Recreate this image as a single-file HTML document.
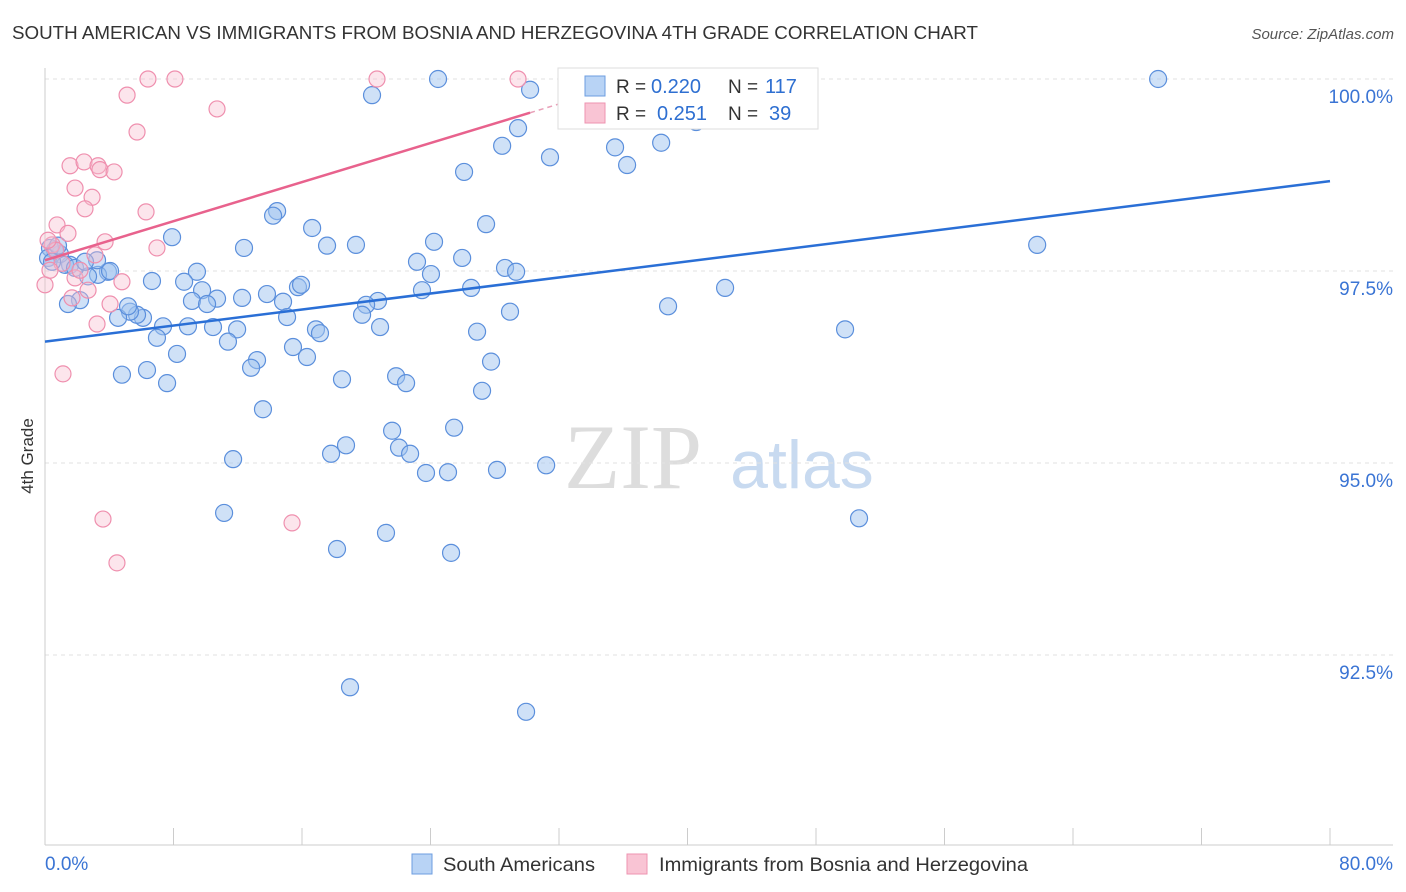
<!DOCTYPE html>
<html><head><meta charset="utf-8"><style>
body{margin:0;background:#fff;font-family:"Liberation Sans",sans-serif;}
svg{display:block}
</style></head><body>
<svg id="chart" width="1406" height="892" xmlns="http://www.w3.org/2000/svg">
<text x="12" y="39" font-size="18.8" fill="#333" font-family="Liberation Sans, sans-serif" textLength="966" lengthAdjust="spacingAndGlyphs">SOUTH AMERICAN VS IMMIGRANTS FROM BOSNIA AND HERZEGOVINA 4TH GRADE CORRELATION CHART</text>
<text x="1394" y="39" font-size="15" fill="#555" text-anchor="end" font-style="italic">Source: ZipAtlas.com</text>
<text transform="translate(33,456) rotate(-90)" font-size="17" fill="#333" text-anchor="middle">4th Grade</text>
<g>
<text x="633" y="488" font-size="92" fill="#ddd" text-anchor="middle" font-family="Liberation Serif, serif">ZIP</text>
<text x="802" y="488" font-size="68" fill="#c8daf0" text-anchor="middle">atlas</text>
</g>
<g id="grid"></g><g id="axes"></g><g id="pts"></g><g id="lines"></g>
<g>
<rect x="558" y="68" width="260" height="61" fill="#fff" stroke="#ddd"/>
<rect x="585" y="76" width="20" height="20" fill="#b8d3f5" stroke="#6d9ee0"/>
<rect x="585" y="103" width="20" height="20" fill="#f9c4d4" stroke="#ee93b0"/>
<text x="616" y="93" font-size="19" fill="#333">R =</text>
<text x="651" y="93" font-size="20" fill="#2e6fd1">0.220</text>
<text x="728" y="93" font-size="19" fill="#333">N =</text>
<text x="765" y="93" font-size="20" fill="#2e6fd1">117</text>
<text x="616" y="120" font-size="19" fill="#333">R =</text>
<text x="657" y="120" font-size="20" fill="#2e6fd1">0.251</text>
<text x="728" y="120" font-size="19" fill="#333">N =</text>
<text x="769" y="120" font-size="20" fill="#2e6fd1">39</text>
</g>
<g>
<rect x="412" y="854" width="20" height="20" fill="#b8d3f5" stroke="#6d9ee0"/>
<text x="443" y="871" font-size="19" fill="#333" textLength="152" lengthAdjust="spacingAndGlyphs">South Americans</text>
<rect x="627" y="854" width="20" height="20" fill="#f9c4d4" stroke="#ee93b0"/>
<text x="659" y="871" font-size="19" fill="#333" textLength="369" lengthAdjust="spacingAndGlyphs">Immigrants from Bosnia and Herzegovina</text>
</g>
</svg>
<script>
const yTicks=[100,97.5,95,92.5];
const yTickLabels=["100.0%","97.5%","95.0%","92.5%"];
const xTicks=[0,8,16,24,32,40,48,56,64,72,80];
const blueX=[24.47,20.36,30.2,32.57,37.11,69.3,29.45,28.46,31.44,35.49,36.24,38.36,26.09,40.54,14.45,14.2,16.63,27.46,7.91,12.39,17.56,19.36,24.22,25.97,23.16,24.03,28.64,29.33,26.53,23.47,61.77,42.34,38.79,49.81,28.95,26.9,27.77,27.21,20.73,19.99,19.74,20.86,15.75,15.94,13.82,14.82,15.07,16.87,17.12,15.44,16.31,13.2,12.83,18.49,21.86,22.48,13.57,21.61,25.47,18.74,17.81,22.04,22.73,11.71,23.72,25.09,28.14,31.2,11.15,50.68,21.23,18.18,25.28,18.99,29.95,9.46,8.66,9.78,10.71,12.27,9.15,10.09,10.46,11.96,11.39,8.9,7.35,6.97,8.22,6.1,5.73,5.29,4.55,5.17,3.92,3.3,2.68,1.56,0.93,0.62,0.31,0.19,1.25,2.18,1.43,3.24,6.66,6.35,7.6,4.79,1.87,0.81,2.49,4.05,0.44];
const blueY=[100,99.79,99.86,100,99.6,100,99.36,99.13,98.98,99.11,98.88,99.17,98.79,99.44,98.28,98.22,98.06,98.11,97.94,97.8,97.83,97.84,97.88,97.67,97.62,97.46,97.54,97.49,97.28,97.25,97.84,97.28,97.04,96.74,96.97,96.71,96.32,95.94,97.11,97.06,96.93,96.77,97.29,97.32,97.2,97.1,96.9,96.74,96.69,96.51,96.38,96.34,96.24,96.09,96.13,96.04,95.7,95.42,95.46,95.23,95.12,95.2,95.12,95.05,94.87,94.88,94.91,94.97,94.35,94.28,94.09,93.88,93.83,92.08,91.76,97.49,97.36,97.25,97.14,97.15,97.11,97.07,96.77,96.74,96.58,96.78,96.78,96.63,96.42,96.89,96.93,96.97,96.89,97.04,97.49,97.45,97.43,97.58,97.72,97.77,97.8,97.67,97.58,97.12,97.07,97.64,97.37,96.21,96.04,96.15,97.54,97.83,97.62,97.5,97.62];
const pinkX=[6.41,8.09,20.67,29.45,5.11,10.71,5.73,1.56,2.43,3.3,3.42,4.3,1.87,2.93,2.49,6.29,0.75,1.43,0.44,0.68,6.97,3.74,3.11,1.06,1.87,2.68,4.79,1.68,4.05,3.24,1.12,3.61,15.38,4.48,0,0.31,0.19,2.18];
const pinkY=[100,100,100,100,99.79,99.61,99.31,98.87,98.92,98.87,98.82,98.79,98.58,98.46,98.31,98.27,98.1,97.99,97.84,97.77,97.8,97.88,97.71,97.6,97.41,97.25,97.36,97.15,97.07,96.81,96.16,94.27,94.22,93.7,97.32,97.51,97.9,97.51];
const blueLine=[96.58,98.67];
const pinkLine=[97.64,0.0636];
const NS="http://www.w3.org/2000/svg";
const X=v=>45+v*16.0625, Y=v=>79+(100-v)*76.8;
function mk(tag,at,parent){const e=document.createElementNS(NS,tag);for(const k in at)e.setAttribute(k,at[k]);document.getElementById(parent).appendChild(e);return e;}
yTicks.forEach((t,i)=>{
 const l=mk('line',{x1:45,x2:1393,y1:Y(t),y2:Y(t),stroke:'#e2e2e2','stroke-dasharray':'4,4'},'grid');
 
 
 const tx=mk('text',{x:1393,y:Y(t)+24,'font-size':19,fill:'#3a74d4','text-anchor':'end'},'grid');
 tx.textContent=yTickLabels[i];
 
 
});
let a=mk('line',{x1:45,x2:45,y1:68,y2:845,stroke:'#ccc'},'axes');


a=mk('line',{x1:45,x2:1393,y1:845,y2:845,stroke:'#ccc'},'axes');


xTicks.forEach(t=>{const l=mk('line',{x1:X(t),x2:X(t),y1:828,y2:845,stroke:'#ccc'},'axes');
 
 });
let t0=mk('text',{x:45,y:870,'font-size':19,fill:'#3a74d4'},'axes');t0.textContent='0.0%';


t0=mk('text',{x:1393,y:870,'font-size':19,fill:'#3a74d4','text-anchor':'end'},'axes');t0.textContent='80.0%';


blueX.forEach((v,i)=>{const c=mk('circle',{cx:X(v),cy:Y(blueY[i]),r:8.5,fill:'rgba(160,196,240,0.5)',stroke:'#5b8fdc','stroke-width':1.2},'pts');
 
 });
pinkX.forEach((v,i)=>{const c=mk('circle',{cx:X(v),cy:Y(pinkY[i]),r:8,fill:'rgba(248,190,208,0.4)',stroke:'#ef8fae','stroke-width':1.2},'pts');
 
 });
let ln=mk('line',{x1:X(0),y1:Y(blueLine[0]),x2:X(80),y2:Y(blueLine[1]),stroke:'#2a6fd6','stroke-width':2.5},'lines');


ln=mk('line',{x1:X(0),y1:Y(pinkLine[0]),x2:X(30.2),y2:Y(pinkLine[0]+pinkLine[1]*30.2),stroke:'#e8628d','stroke-width':2.5},'lines');


ln=mk('line',{x1:X(30.2),y1:Y(pinkLine[0]+pinkLine[1]*30.2),x2:X(36),y2:Y(pinkLine[0]+pinkLine[1]*36),stroke:'#e8a0b8','stroke-width':1.5,'stroke-dasharray':'5,4'},'lines');


</script>
</body></html>
